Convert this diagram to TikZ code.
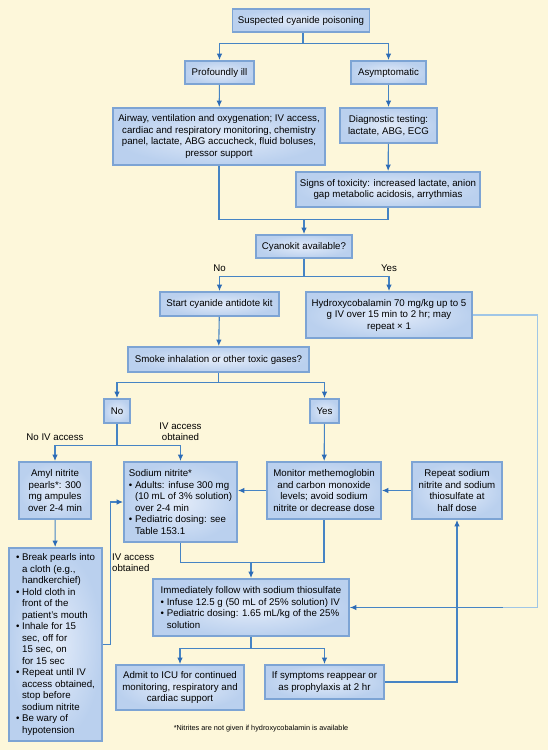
\documentclass[tikz,border=0pt]{standalone}
\usepackage{fontspec}
\setmainfont{Liberation Sans}
\usetikzlibrary{arrows.meta}
\definecolor{bgcream}{RGB}{253,247,218}
\definecolor{boxfill}{RGB}{186,208,238}
\definecolor{boxin}{RGB}{226,235,249}
\definecolor{boxedge}{RGB}{125,164,212}
\definecolor{arrowblue}{RGB}{70,132,196}
\definecolor{tipblue}{RGB}{45,108,182}
\definecolor{paleblue}{RGB}{160,198,230}
\newcommand{\bt}{\textbullet\ }
\newcommand{\ind}{\hphantom{\textbullet\ }}

\begin{document}
\begin{tikzpicture}[x=1pt, y=-1pt, font=\fontsize{9.7}{11.5}\selectfont,
		box/.style={draw=boxedge, line width=1.8pt, inner color=boxin, outer color=boxfill,
			align=center, inner xsep=2pt, inner ysep=1pt},
		lbox/.style={box, align=left},
		arr/.style={draw=arrowblue, line width=1.1pt, -{Latex[length=6.5pt,width=5.5pt,color=tipblue]}},
		link/.style={draw=arrowblue, line width=1.1pt}]
		\fill[bgcream] (0,0) rectangle (548,750);
		\useasboundingbox (0,0) rectangle (548,750);
		% boxes
		\node[box, minimum width=137, minimum height=23] (start) at (301,20.5) {Suspected cyanide poisoning};
		\node[box, minimum width=69, minimum height=23] (ill) at (219.5,72.5) {Profoundly ill};
		\node[box, minimum width=75, minimum height=23] (asym) at (388.5,72.5) {Asymptomatic};
		\node[box, minimum width=212, minimum height=57] (airway) at (219,136.5) {Airway, ventilation and oxygenation; IV access,\\ cardiac and respiratory monitoring, chemistry\\ panel, lactate, ABG accucheck, fluid boluses,\\ pressor support};
		\node[box, minimum width=97, minimum height=35] (diag) at (388.5,125.5) {Diagnostic testing:\\ lactate, ABG, ECG};
		\node[box, minimum width=184, minimum height=35] (signs) at (388,189.5) {Signs of toxicity: increased lactate, anion\\ gap metabolic acidosis, arrythmias};
		\node[box, minimum width=96, minimum height=23] (kit) at (304,246.5) {Cyanokit available?};
		\node[box, minimum width=119, minimum height=24] (antidote) at (219.5,304) {Start cyanide antidote kit};
		\node[box, minimum width=166, minimum height=46] (hydroxy) at (389,315) {Hydroxycobalamin 70 mg/kg up to 5\\ g IV over 15 min to 2 hr; may\\ repeat × 1};
		\node[box, minimum width=181, minimum height=25] (smoke) at (218.5,359.5) {Smoke inhalation or other toxic gases?};
		\node[box, minimum width=26, minimum height=24] (no) at (117,411) {No};
		\node[box, minimum width=29, minimum height=24] (yes) at (324.5,411) {Yes};
		\node[box, minimum width=72, minimum height=57] (amyl) at (55,490.5) {Amyl nitrite\\ pearls*: 300\\ mg ampules\\ over 2-4 min};
		\node[lbox, minimum width=113, minimum height=80] (nitrite) at (180.5,502) {Sodium nitrite*\\ \bt Adults: infuse 300 mg\\ \ind(10 mL of 3\% solution)\\ \ind over 2-4 min\\ \bt Pediatric dosing: see\\ \ind Table 153.1};
		\node[box, minimum width=114, minimum height=57] (monitor) at (324,490.5) {Monitor methemoglobin\\ and carbon monoxide\\ levels; avoid sodium\\ nitrite or decrease dose};
		\node[box, minimum width=90, minimum height=57] (repeat) at (457,490.5) {Repeat sodium\\ nitrite and sodium\\ thiosulfate at\\ half dose};
		\node[lbox, minimum width=93, minimum height=193] (pearls) at (55.5,644.5) {\bt Break pearls into\\ \ind a cloth (e.g.,\\ \ind handkerchief)\\ \bt Hold cloth in\\ \ind front of the\\ \ind patient’s mouth\\ \bt Inhale for 15\\ \ind sec, off for\\ \ind 15 sec, on\\ \ind for 15 sec\\ \bt Repeat until IV\\ \ind access obtained,\\ \ind stop before\\ \ind sodium nitrite\\ \bt Be wary of\\ \ind hypotension};
		\node[lbox, minimum width=196, minimum height=57] (thio) at (251,607.5) {Immediately follow with sodium thiosulfate\\ \bt Infuse 12.5 g (50 mL of 25\% solution) IV\\ \bt Pediatric dosing: 1.65 mL/kg of the 25\%\\ \ind solution};
		\node[box, minimum width=128, minimum height=45] (icu) at (180,687.5) {Admit to ICU for continued\\ monitoring, respiratory and\\ cardiac support};
		\node[box, minimum width=119, minimum height=34] (symptoms) at (324.5,682) {If symptoms reappear or\\ as prophylaxis at 2 hr};
		\node[font=\fontsize{7.3}{9}\selectfont] (note) at (261,729) {*Nitrites are not given if hydroxycobalamin is available};
		
		% connectors
		\draw[link] ([xshift=2pt]start.south) -- ++(0,11) coordinate (s1);
		\draw[arr] (s1) -| (ill.north);
		\draw[arr] (s1) -| (asym.north);
		\draw[arr] (ill) -- (airway);
		\draw[arr] (asym) -- (diag);
		\draw[arr] (diag) -- (signs);
		\draw[link] (airway.south) -- ++(0,54) -| (signs.south);
		\coordinate (m1) at (kit.north |- 0,219);
		\draw[arr] (m1) -- (kit.north);
		
		\draw[link] (kit.south) -- ++(0,18) coordinate (s2);
		\draw[arr] (s2) -| node[pos=.5, above=1pt] (lno) {No} (antidote.north);
		\draw[arr] (s2) -| node[pos=.5, above=1pt] (lyes) {Yes} (hydroxy.north);
		\draw[arr] (antidote) -- (smoke);
		\draw[link] (smoke.south) -- ++(0,10) coordinate (s3);
		\draw[arr] (s3) -| (no.north);
		\draw[arr] (s3) -| (yes.north);
		\draw[link] (no.south) -- ++(0,22) coordinate (s4);
		\draw[arr] (s4) -| node[pos=.5, above=1pt] (lnoiv) {No IV access} (amyl.north);
		\draw[arr] (s4) -| node[pos=.5, above=1pt, align=center] (liv) {IV access\\ obtained} (nitrite.north);
		\draw[arr] (yes) -- (monitor);
		\draw[arr] (monitor) -- (nitrite.east |- monitor);
		\draw[arr] (repeat) -- (monitor);
		\draw[arr] (amyl) -- (pearls);
		\draw[arr] (pearls.east) -- ++(8,0) |- (nitrite.west);
		\node[anchor=west, align=left, inner sep=1pt] (liv2) at (111,562.5) {IV access\\ obtained};
		
		\draw[link] (nitrite.south) -- ++(0,20) -| (monitor.south);
		\coordinate (m2) at (thio.north |- 0,562);
		\draw[arr] (m2) -- (thio.north);
		\draw[link] (thio.south) -- ++(0,12) coordinate (s5);
		\draw[arr] (s5) -| (icu.north);
		\draw[arr] (s5) -| (symptoms.north);
		\draw[arr] (symptoms.east) -| (repeat.south);
		\draw[link, draw=paleblue] (hydroxy.east) -- ++(65,0) |- (thio.east);
		\coordinate (r1) at (repeat.east |- thio.east);
		\draw[arr] (r1) -- (thio.east);
\end{tikzpicture}
\end{document}
